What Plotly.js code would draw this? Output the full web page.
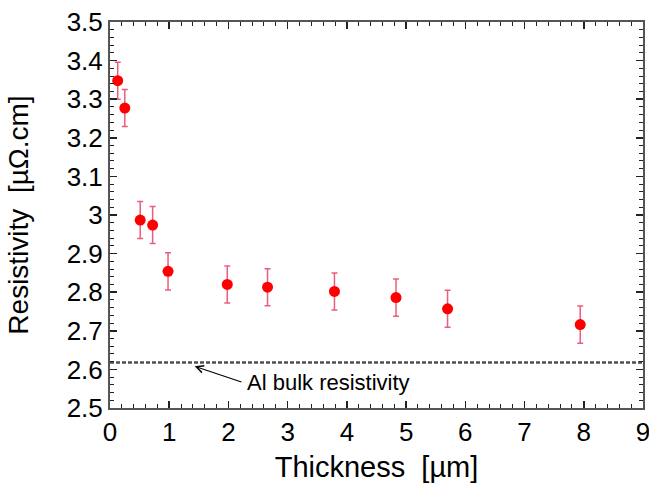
<!DOCTYPE html>
<html>
<head>
<meta charset="utf-8">
<script src="https://cdn.plot.ly/plotly-3.0.1.min.js"></script>
<style>html,body{margin:0;padding:0;background:#fff;}#chart{width:649px;height:483px;}</style>
</head>
<body>
<div id="chart"></div>
<script>
// Data
const thickness = [0.13, 0.25, 0.51, 0.72, 0.98, 1.98, 2.66, 3.79, 4.83, 5.70, 7.94];
const resistivity = [3.348, 3.277, 2.987, 2.974, 2.854, 2.820, 2.813, 2.802, 2.786, 2.757, 2.716];
const errors = [0.048, 0.048, 0.048, 0.048, 0.048, 0.048, 0.048, 0.048, 0.048, 0.048, 0.048];
const bulkX = [0, 9];
const bulkY = [2.618, 2.618];
const bulkLabel = "Al bulk resistivity";
const xTitle = "Thickness  [\u00b5m]";
const yTitle = "Resistivity  [\u00b5\u03a9.cm]";

const font = "Liberation Sans, Arial, Helvetica, sans-serif";

const traces = [
  {
    x: bulkX, y: bulkY, mode: "lines", type: "scatter",
    line: {color: "#505050", width: 2.5, dash: "4px,2px"},
    hoverinfo: "skip", showlegend: false
  },
  {
    x: thickness, y: resistivity, mode: "markers", type: "scatter",
    marker: {color: "#ff0000", size: 11},
    error_y: {type: "data", array: errors, visible: true, color: "rgba(225,40,80,0.75)", thickness: 1.5, width: 3},
    showlegend: false
  }
];

const axisCommon = {
  showgrid: false, zeroline: false,
  showline: true, linecolor: "#555555", linewidth: 2,
  mirror: "allticks", ticks: "inside", ticklen: 7, tickwidth: 1.5, tickcolor: "#222222",
  ticklabeloverflow: "allow",
  tickfont: {family: font, size: 26, color: "#000"}
};

const layout = {
  width: 649, height: 483,
  margin: {l: 110, r: 6, t: 22, b: 75},
  paper_bgcolor: "#ffffff", plot_bgcolor: "#ffffff",
  font: {family: font, color: "#000"},
  xaxis: Object.assign({}, axisCommon, {
    range: [0, 9], dtick: 1, tick0: 0,
    minor: {dtick: 0.2, ticks: "inside", ticklen: 4, tickwidth: 1, tickcolor: "#222222"},
    title: {text: xTitle, font: {family: font, size: 29, color: "#000"}, standoff: 10}
  }),
  yaxis: Object.assign({}, axisCommon, {
    range: [2.5, 3.5], dtick: 0.1, tick0: 2.5,
    minor: {dtick: 0.02, ticks: "inside", ticklen: 4, tickwidth: 1, tickcolor: "#222222"},
    title: {text: yTitle, font: {family: font, size: 28, color: "#000"}, standoff: 30}
  }),
  annotations: [
    {
      x: 1.43, y: 2.608, xref: "x", yref: "y",
      ax: 2.245, ay: 2.566, axref: "x", ayref: "y",
      text: "", showarrow: true, arrowhead: 5, arrowsize: 1.2, arrowwidth: 1.2, arrowcolor: "#000"
    },
    {
      x: 2.28, y: 2.566, xref: "x", yref: "y", xanchor: "left", yanchor: "middle",
      text: bulkLabel, showarrow: false, font: {family: font, size: 22, color: "#000"}
    }
  ]
};

Plotly.newPlot("chart", traces, layout, {displayModeBar: false, staticPlot: true});
</script>
</body>
</html>
